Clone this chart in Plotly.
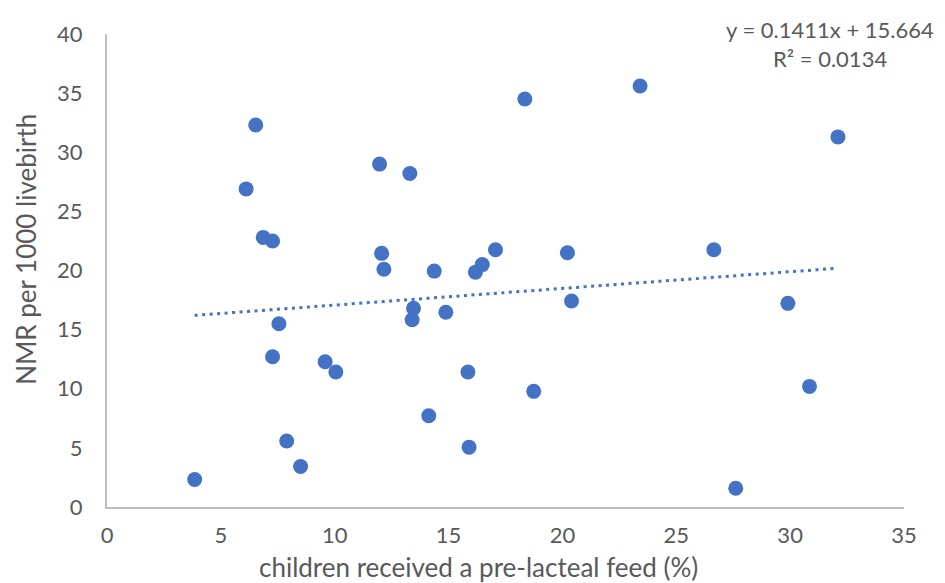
import plotly.graph_objects as go

# Data
prelacteal_pct = [6.53, 6.11, 6.86, 7.27, 11.97, 13.30, 12.06, 12.16, 14.37, 16.18,
                  16.48, 17.06, 18.35, 23.41, 20.22, 26.65, 32.10, 7.55, 7.27, 9.58,
                  10.05, 13.46, 13.40, 14.88, 15.85, 14.13, 7.89, 8.50, 3.85, 15.90,
                  20.40, 29.90, 18.74, 30.85, 27.61]
nmr = [32.3, 26.9, 22.8, 22.5, 29.0, 28.2, 21.45, 20.1, 19.95, 19.86,
       20.5, 21.75, 34.5, 35.6, 21.5, 21.75, 31.3, 15.5, 12.7, 12.28,
       11.42, 16.8, 15.83, 16.47, 11.42, 7.72, 5.58, 3.42, 2.33, 5.06,
       17.42, 17.22, 9.78, 10.2, 1.58]

slope = 0.1411
intercept = 15.664
r_squared = 0.0134

x_ticks = [0, 5, 10, 15, 20, 25, 30, 35]
y_ticks = [0, 5, 10, 15, 20, 25, 30, 35, 40]

x_title = "children received a pre-lacteal feed (%)"
y_title = "NMR per 1000 livebirth"

trend_x = [min(prelacteal_pct), max(prelacteal_pct)]
trend_y = [slope * v + intercept for v in trend_x]

FONT = "Lato"
GREY = "#595959"
BLUE = "#4472C4"

fig = go.Figure()
fig.add_trace(go.Scatter(
    x=prelacteal_pct, y=nmr, mode="markers",
    marker=dict(size=15, color=BLUE, line=dict(width=0)),
    showlegend=False, hoverinfo="x+y"))
fig.add_trace(go.Scatter(
    x=trend_x, y=trend_y, mode="lines",
    line=dict(color=BLUE, width=3, dash="3px,4.5px"),
    showlegend=False, hoverinfo="skip"))

fig.update_layout(
    width=937, height=575,
    margin=dict(l=99, r=41, t=19, b=76),
    plot_bgcolor="white", paper_bgcolor="white",
    font=dict(family=FONT, color=GREY, size=22),
    xaxis=dict(range=[0, 35], tickvals=x_ticks, showgrid=False, zeroline=False,
               showline=True, linecolor="#BFBFBF", linewidth=2, ticks="",
               ticklabelstandoff=8),
    yaxis=dict(range=[0, 40], tickvals=y_ticks, showgrid=False, zeroline=False,
               showline=True, linecolor="#BFBFBF", linewidth=2, ticks="",
               ticklabelstandoff=18),
)

fig.add_annotation(xref="paper", yref="paper", x=0.466, y=-0.127,
                   text=x_title, showarrow=False,
                   font=dict(size=26, color=GREY), xanchor="center", yanchor="middle")
fig.add_annotation(xref="paper", yref="paper", x=-0.1016, y=0.544,
                   text=y_title, showarrow=False, textangle=-90,
                   font=dict(size=26, color=GREY), xanchor="center", yanchor="middle")
fig.add_annotation(xref="paper", yref="paper", x=0.907, y=1.0104,
                   text=f"y = {slope}x + {intercept}", showarrow=False,
                   font=dict(size=22, color=GREY), xanchor="center", yanchor="middle")
fig.add_annotation(xref="paper", yref="paper", x=0.907, y=0.948,
                   text=f"R² = {r_squared}", showarrow=False,
                   font=dict(size=22, color=GREY), xanchor="center", yanchor="middle")

fig.write_html("out.html")
